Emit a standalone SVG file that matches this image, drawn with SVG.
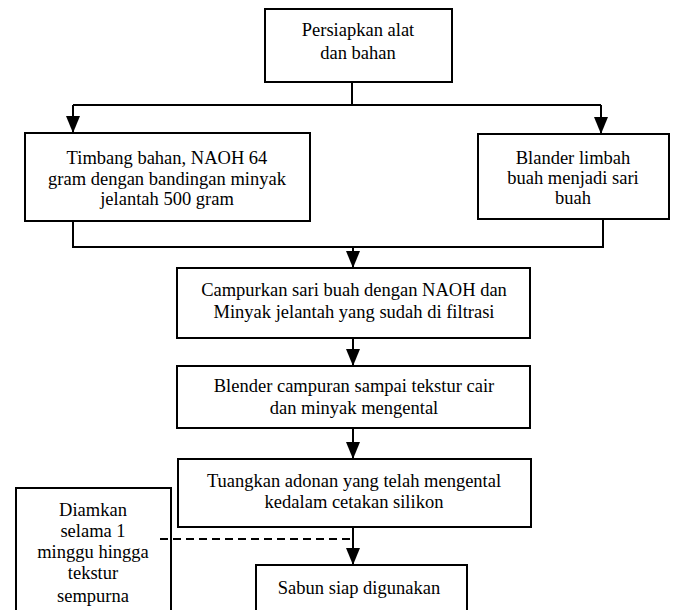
<svg xmlns="http://www.w3.org/2000/svg" width="674" height="610" viewBox="0 0 674 610">
<style>
.box{fill:#fff;stroke:#000;stroke-width:2}
.t{font-family:'Liberation Serif','DejaVu Serif',serif;font-size:18.5px;fill:#000;text-anchor:middle}
.c{fill:none;stroke:#000;stroke-width:2}
.d{fill:none;stroke:#000;stroke-width:2;stroke-dasharray:8,5}
</style>
<defs>
<marker id="ah" viewBox="0 0 17 14" refX="17" refY="7" markerWidth="17" markerHeight="14" markerUnits="userSpaceOnUse" orient="auto">
<path d="M0,0 L17,7 L0,14 Z" fill="#000"/>
</marker>
</defs>
<rect width="674" height="610" fill="#fff"/>
<g id="connectors">
<path class="c" d="M352,82 V105"/>
<path class="c" d="M73,105 H601"/>
<path class="c" d="M73,105 V133" marker-end="url(#ah)"/>
<path class="c" d="M601,105 V134" marker-end="url(#ah)"/>
<path class="c" d="M73,221 V247 H603 V219"/>
<path class="c" d="M353,247 V268" marker-end="url(#ah)"/>
<path class="c" d="M353,338 V366" marker-end="url(#ah)"/>
<path class="c" d="M353,428 V459" marker-end="url(#ah)"/>
<path class="c" d="M353,527 V565" marker-end="url(#ah)"/>
</g>
<g id="n1">
<rect class="box" x="265" y="9" width="187" height="73"/>
<text class="t" x="358" y="36">Persiapkan alat</text>
<text class="t" x="358" y="59">dan bahan</text>
</g>
<g id="n2">
<rect class="box" x="25" y="133" width="285" height="88"/>
<text class="t" x="167" y="164">Timbang bahan, NAOH 64</text>
<text class="t" x="167" y="185">gram dengan bandingan minyak</text>
<text class="t" x="167" y="205">jelantah 500 gram</text>
</g>
<g id="n3">
<rect class="box" x="478" y="134" width="191" height="85"/>
<text class="t" x="573" y="164">Blander limbah</text>
<text class="t" x="573" y="184">buah menjadi sari</text>
<text class="t" x="573" y="204">buah</text>
</g>
<g id="n4">
<rect class="box" x="177" y="268" width="353" height="70"/>
<text class="t" x="354" y="296">Campurkan sari buah dengan NAOH dan</text>
<text class="t" x="354" y="318">Minyak jelantah yang sudah di filtrasi</text>
</g>
<g id="n5">
<rect class="box" x="177" y="366" width="353" height="62"/>
<text class="t" x="354" y="392">Blender campuran sampai tekstur cair</text>
<text class="t" x="354" y="414">dan minyak mengental</text>
</g>
<g id="n6">
<rect class="box" x="178" y="459" width="353" height="68"/>
<text class="t" x="354" y="487">Tuangkan adonan yang telah mengental</text>
<text class="t" x="354" y="508">kedalam cetakan silikon</text>
</g>
<g id="n7">
<rect class="box" x="256" y="565" width="211" height="60"/>
<text class="t" x="359" y="594">Sabun siap digunakan</text>
</g>
<g id="n8">
<rect class="box" x="16" y="488" width="155" height="140"/>
<text class="t" x="93" y="516">Diamkan</text>
<text class="t" x="93" y="537">selama 1</text>
<text class="t" x="93" y="558">minggu hingga</text>
<text class="t" x="93" y="579">tekstur</text>
<text class="t" x="93" y="602">sempurna</text>
</g>
<g id="dashed">
<path class="d" d="M160,539 H353"/>
</g>
</svg>
